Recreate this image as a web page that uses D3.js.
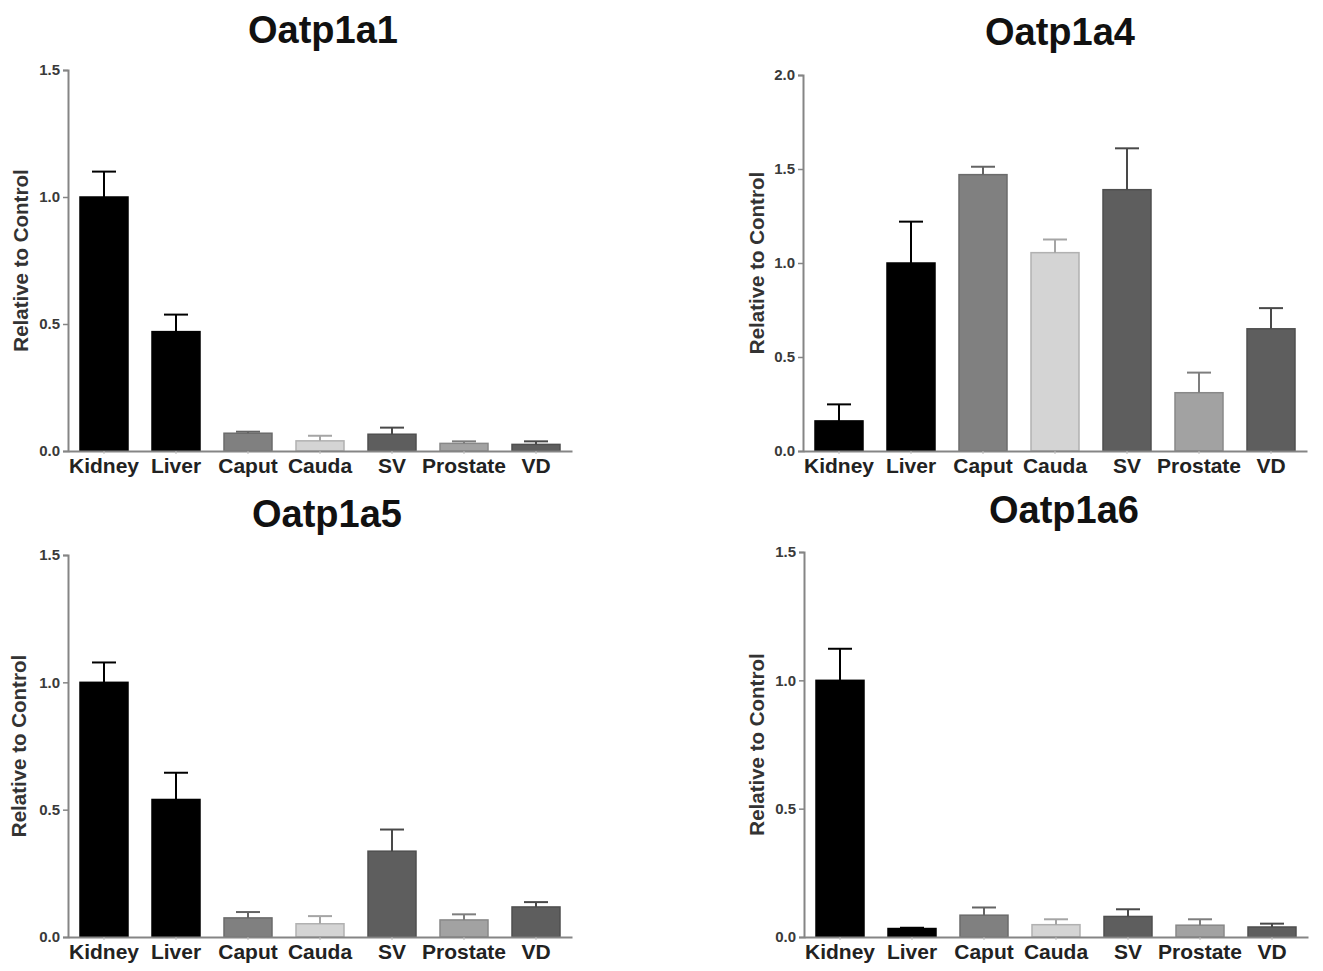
<!DOCTYPE html>
<html>
<head>
<meta charset="utf-8">
<script src="https://cdn.jsdelivr.net/npm/d3@7"></script>
<style>
  body { margin: 0; background: #fff; }
  text { font-family: "Liberation Sans", Arial, sans-serif; }
</style>
</head>
<body>
<div id="wrapper"></div>
<script>
// tissues on the x axis, shared by all four panels
const tissues = ["Kidney", "Liver", "Caput", "Cauda", "SV", "Prostate", "VD"];
const tissueColors = ["#000000", "#000000", "#808080", "#d4d4d4", "#5e5e5e", "#a2a2a2", "#5e5e5e"];

const genes = ["Oatp1a1", "Oatp1a4", "Oatp1a5", "Oatp1a6"];
const yMax = [1.5, 2.0, 1.5, 1.5];
const yTicks = [[0, 0.5, 1.0, 1.5], [0, 0.5, 1.0, 1.5, 2.0], [0, 0.5, 1.0, 1.5], [0, 0.5, 1.0, 1.5]];

// mean (relative to control) and SEM
const oatp1a1Mean = [1.0, 0.47, 0.07, 0.04, 0.066, 0.03, 0.026];
const oatp1a1Sem  = [0.10, 0.067, 0.006, 0.02, 0.026, 0.008, 0.012];
const oatp1a4Mean = [0.16, 1.0, 1.47, 1.055, 1.39, 0.31, 0.65];
const oatp1a4Sem  = [0.088, 0.22, 0.042, 0.07, 0.22, 0.107, 0.11];
const oatp1a5Mean = [1.0, 0.54, 0.075, 0.052, 0.337, 0.067, 0.118];
const oatp1a5Sem  = [0.078, 0.105, 0.023, 0.03, 0.085, 0.022, 0.019];
const oatp1a6Mean = [1.0, 0.033, 0.085, 0.048, 0.08, 0.046, 0.039];
const oatp1a6Sem  = [0.123, 0.003, 0.03, 0.021, 0.028, 0.023, 0.013];

const means = [oatp1a1Mean, oatp1a4Mean, oatp1a5Mean, oatp1a6Mean];
const sems = [oatp1a1Sem, oatp1a4Sem, oatp1a5Sem, oatp1a6Sem];

// plot boxes (layout)
const panels = [
  { left: 68,  right: 572,  top: 70,  bottom: 451, titleX: 323,  titleY: 43,  labelX: 23 },
  { left: 803, right: 1307, top: 75,  bottom: 451, titleX: 1060, titleY: 45,  labelX: 759 },
  { left: 68,  right: 572,  top: 555, bottom: 937, titleX: 327,  titleY: 527, labelX: 21 },
  { left: 804, right: 1308, top: 552, bottom: 937, titleX: 1064, titleY: 523, labelX: 759 }
];

const svg = d3.select("#wrapper").append("svg")
  .attr("width", 1323)
  .attr("height", 971);

const axisColor = "#858585";

panels.forEach((p, gi) => {
  const data = tissues.map((t, i) => ({
    tissue: t, mean: means[gi][i], sem: sems[gi][i], color: tissueColors[i]
  }));

  const x = d3.scaleBand().domain(tissues).range([p.left, p.right]).paddingInner(1 / 3).paddingOuter(1 / 6);
  const y = d3.scaleLinear().domain([0, yMax[gi]]).range([p.bottom, p.top]);

  const g = svg.append("g");

  // title
  g.append("text")
    .attr("x", p.titleX)
    .attr("y", p.titleY)
    .attr("text-anchor", "middle")
    .style("font-size", "38px")
    .style("font-weight", "bold")
    .attr("fill", "#111")
    .text(genes[gi]);

  // y label
  g.append("text")
    .attr("transform", `translate(${p.labelX},${(p.top + p.bottom) / 2}) rotate(-90)`)
    .attr("text-anchor", "middle")
    .attr("dominant-baseline", "middle")
    .style("font-size", "20.5px")
    .style("font-weight", "bold")
    .attr("fill", "#333")
    .text("Relative to Control");

  // bars
  g.selectAll("rect.bar")
    .data(data)
    .join("rect")
    .attr("class", "bar")
    .attr("x", d => x(d.tissue))
    .attr("width", x.bandwidth())
    .attr("y", d => y(d.mean))
    .attr("height", d => y(0) - y(d.mean))
    .attr("fill", d => d.color)
    .attr("stroke", d => d3.color(d.color).darker(0.5))
    .attr("stroke-width", 1.5);

  // error bars, upper half only
  const err = g.selectAll("g.err")
    .data(data)
    .join("g")
    .attr("class", "err")
    .attr("stroke", d => d.color === "#000000" ? "#000" : d3.color(d.color).darker(0.7))
    .attr("stroke-width", 2);

  err.append("line")
    .attr("x1", d => x(d.tissue) + x.bandwidth() / 2)
    .attr("x2", d => x(d.tissue) + x.bandwidth() / 2)
    .attr("y1", d => y(d.mean))
    .attr("y2", d => y(d.mean + d.sem));

  err.append("line")
    .attr("x1", d => x(d.tissue) + x.bandwidth() / 4)
    .attr("x2", d => x(d.tissue) + x.bandwidth() * 3 / 4)
    .attr("y1", d => y(d.mean + d.sem))
    .attr("y2", d => y(d.mean + d.sem));

  // y axis
  const yAxis = g.append("g")
    .attr("transform", `translate(${p.left},0)`)
    .call(d3.axisLeft(y).tickValues(yTicks[gi]).tickFormat(d3.format(".1f")).tickSize(5).tickPadding(3));
  yAxis.select(".domain").attr("stroke", axisColor).attr("stroke-width", 2);
  yAxis.selectAll(".tick line").attr("stroke", axisColor).attr("stroke-width", 1.5);
  yAxis.selectAll(".tick text")
    .style("font-size", "15px")
    .style("font-weight", "bold")
    .attr("fill", "#3a3a3a");

  // x axis
  const xAxis = g.append("g")
    .attr("transform", `translate(0,${p.bottom})`)
    .call(d3.axisBottom(x).tickSize(3).tickPadding(4).tickSizeOuter(0));
  xAxis.select(".domain").attr("stroke", axisColor).attr("stroke-width", 2);
  xAxis.selectAll(".tick line").attr("stroke", "#bbb");
  xAxis.selectAll(".tick text")
    .style("font-size", "21px")
    .style("font-weight", "bold")
    .attr("fill", "#222");
});
</script>
</body>
</html>
